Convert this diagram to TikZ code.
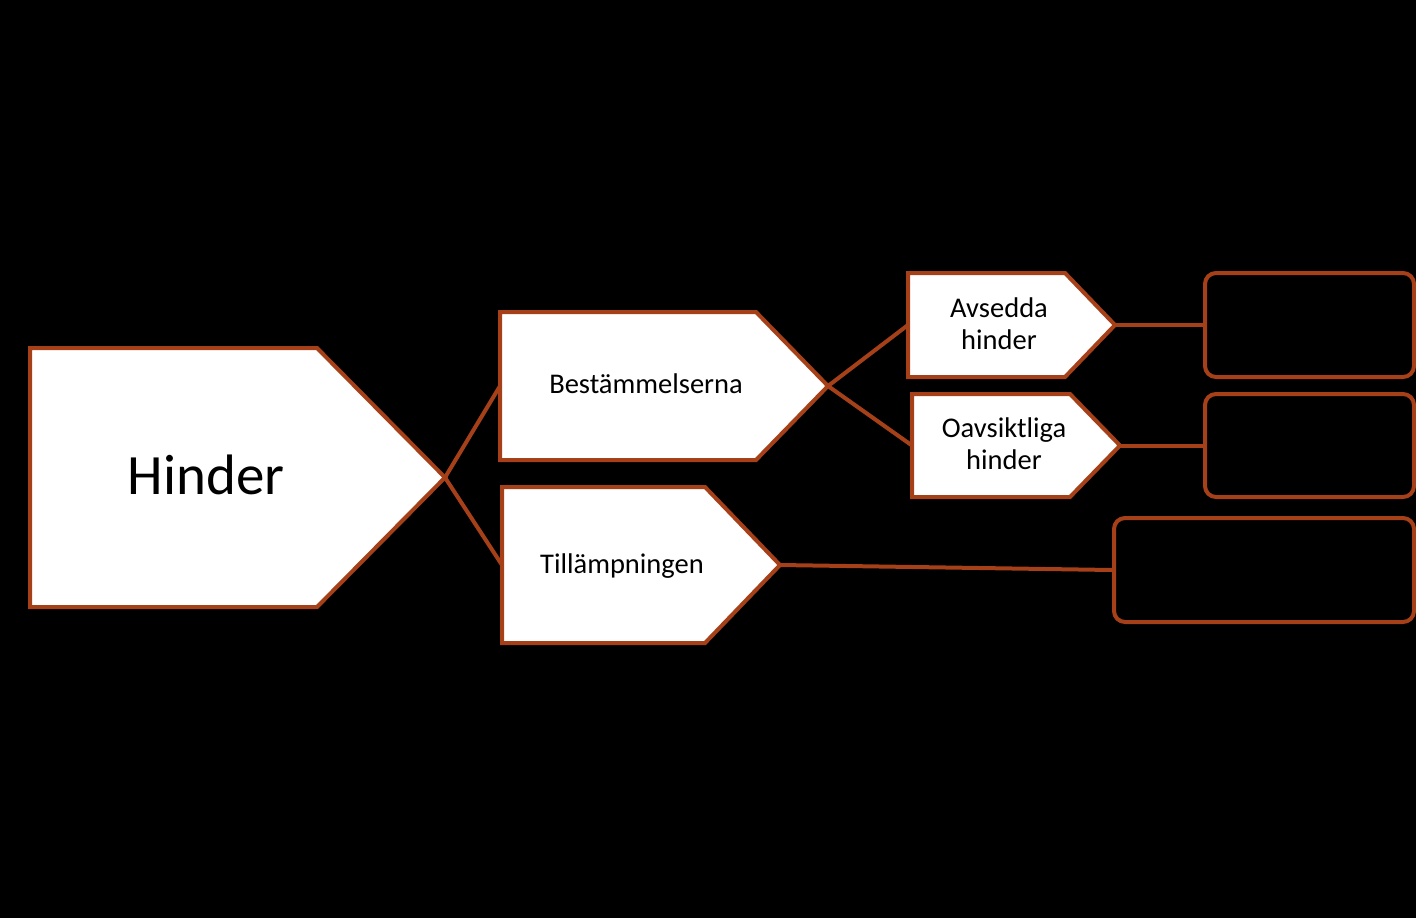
\documentclass[tikz,border=0pt]{standalone}
\usepackage{fontspec}
\setmainfont{Carlito}
\definecolor{brd}{RGB}{166,64,24}
% #1 name, #2 left x, #3 shoulder x, #4 tip x, #5 top y, #6 bottom y
\newcommand\pentshape[6]{%
  \draw[pent] (#2,#5) -- (#3,#5) -- (#4,{(#5+#6)/2}) -- (#3,#6) -- (#2,#6) -- cycle;
  \coordinate (#1-w) at (#2,{(#5+#6)/2});
  \coordinate (#1-e) at (#4,{(#5+#6)/2});
}
\begin{document}
\begin{tikzpicture}[x=1pt,y=-1pt,
  pent/.style={draw=brd,fill=white,line width=4pt},
  conn/.style={draw=brd,line width=4pt},
  rbox/.style={draw=brd,fill=black,line width=4pt,rounded corners=11pt,inner sep=0pt},
  lbl/.style={text=black,font=\fontsize{28.5}{34}\selectfont,anchor=base,inner sep=0pt},
  big/.style={text=black,font=\fontsize{57}{68}\selectfont,anchor=base,inner sep=0pt}]
\fill[black] (0,0) rectangle (1416,918);
\useasboundingbox (0,0) rectangle (1416,918);

% right boxes
\node[rbox,minimum width=209pt,minimum height=104pt] (r1) at (1309.5,325) {};
\node[rbox,minimum width=209pt,minimum height=103pt] (r2) at (1309.5,445.5) {};
\node[rbox,minimum width=300pt,minimum height=104pt] (r3) at (1264,570) {};

% shapes
\pentshape{hin}{30}{317}{445}{348}{607}
\pentshape{bes}{500}{756}{828}{312}{460}
\pentshape{til}{502}{705}{780}{487}{643}
\pentshape{avs}{908}{1065}{1115}{273}{377}
\pentshape{oav}{912}{1070}{1120}{394}{497}

% connectors
\draw[conn] (hin-e) -- (bes-w);
\draw[conn] (hin-e) -- (til-w);
\draw[conn] (bes-e) -- (avs-w);
\draw[conn] (bes-e) -- (oav-w);
\draw[conn] (avs-e) -- (r1.west);
\draw[conn] (oav-e) -- (r2.west);
\draw[conn] (til-e) -- (r3.west);

% labels
\node[big] (thin) at (206,494) {Hinder};
\node[lbl] (tbes) at (646,393) {Bestämmelserna};
\node[lbl] (ttil) at (622,573) {Tillämpningen};
\node[lbl] (tavs1) at (999,317) {Avsedda};
\node[lbl] (tavs2) at (999,349) {hinder};
\node[lbl] (toav1) at (1004,437) {Oavsiktliga};
\node[lbl] (toav2) at (1004,469) {hinder};
\end{tikzpicture}
\end{document}
